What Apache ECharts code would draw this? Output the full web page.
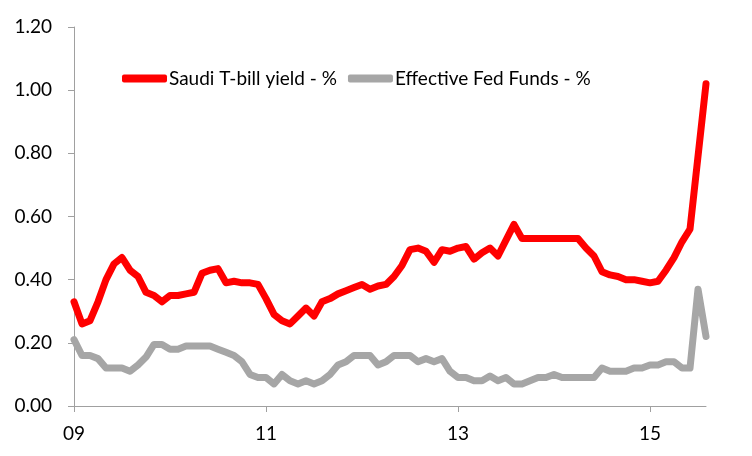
<!DOCTYPE html>
<html>
<head>
<meta charset="utf-8">
<script src="https://cdn.jsdelivr.net/npm/echarts@6/dist/echarts.min.js"></script>
<style>
  html, body { margin: 0; padding: 0; background: #fff; }
  #chart { width: 752px; height: 456px; }
</style>
</head>
<body>
<div id="chart"></div>
<script>
// monthly, Jan 2009 .. Aug 2015
var yearLabels = ['09', '10', '11', '12', '13', '14', '15'];

var saudiTbill = [
    0.33, 0.26, 0.27, 0.33, 0.40, 0.45, 0.47, 0.43, 0.41, 0.36, 0.35, 0.33,
    0.35, 0.35, 0.355, 0.36, 0.42, 0.43, 0.435, 0.39, 0.395, 0.39, 0.39, 0.385,
    0.34, 0.29, 0.27, 0.26, 0.285, 0.31, 0.285, 0.33, 0.34, 0.355, 0.365, 0.375,
    0.385, 0.37, 0.38, 0.385, 0.41, 0.445, 0.495, 0.50, 0.49, 0.455, 0.495, 0.49,
    0.50, 0.505, 0.465, 0.485, 0.50, 0.475, 0.525, 0.575, 0.53, 0.53, 0.53, 0.53,
    0.53, 0.53, 0.53, 0.53, 0.50, 0.475, 0.425, 0.415, 0.41, 0.40,
    0.40, 0.395, 0.39, 0.395, 0.43, 0.47, 0.52, 0.56, 0.79, 1.02
];

var fedFunds = [
    0.21, 0.16, 0.16, 0.15, 0.12, 0.12, 0.12, 0.11, 0.13, 0.155, 0.195, 0.195,
    0.18, 0.18, 0.19, 0.19, 0.19, 0.19, 0.18, 0.17, 0.16, 0.14, 0.10, 0.09,
    0.09, 0.07, 0.10, 0.08, 0.07, 0.08, 0.07, 0.08, 0.10, 0.13, 0.14, 0.16,
    0.16, 0.16, 0.13, 0.14, 0.16, 0.16, 0.16, 0.14, 0.15, 0.14, 0.15, 0.11,
    0.09, 0.09, 0.08, 0.08, 0.095, 0.08, 0.09, 0.07, 0.07, 0.08, 0.09, 0.09,
    0.10, 0.09, 0.09, 0.09, 0.09, 0.09, 0.12, 0.11, 0.11, 0.11,
    0.12, 0.12, 0.13, 0.13, 0.14, 0.14, 0.12, 0.12, 0.37, 0.22
];

var months = [];
for (var i = 0; i < saudiTbill.length; i++) {
    months.push(yearLabels[Math.floor(i / 12)] + '-' + (i % 12 + 1));
}

var font = 'Lato';
var axisGrey = '#a0a0a0';

var chart = echarts.init(document.getElementById('chart'), null, {renderer: 'canvas'});

var option = {
    animation: false,
    backgroundColor: '#fff',
    textStyle: {fontFamily: font},
    legend: {
        left: 122,
        top: 69,
        padding: 0,
        itemWidth: 45,
        itemHeight: 8,
        itemGap: 11,
        icon: 'roundRect',
        textStyle: {fontFamily: font, fontSize: 19, color: '#000', padding: [0, 0, 0, -3]},
        data: ['Saudi T-bill yield - %', 'Effective Fed Funds - %']
    },
    grid: {
        left: 74,
        right: 46,
        top: 27,
        bottom: 50
    },
    xAxis: {
        type: 'category',
        data: months,
        boundaryGap: false,
        axisLine: {lineStyle: {color: axisGrey, width: 1}},
        axisTick: {interval: 23, length: 6, lineStyle: {color: axisGrey}},
        axisLabel: {
            interval: 23,
            margin: 18,
            fontFamily: font,
            fontSize: 19,
            color: '#000',
            formatter: function (v) { return v.split('-')[0]; }
        },
        splitLine: {show: false}
    },
    yAxis: {
        type: 'value',
        min: 0,
        max: 1.2,
        interval: 0.2,
        axisLine: {show: true, lineStyle: {color: axisGrey, width: 1}},
        axisTick: {show: true, length: 6, lineStyle: {color: axisGrey}},
        axisLabel: {
            margin: 22,
            fontFamily: font,
            fontSize: 19,
            color: '#000',
            formatter: function (v) { return v.toFixed(2); }
        },
        splitLine: {show: false}
    },
    series: [
        {
            name: 'Saudi T-bill yield - %',
            type: 'line',
            data: saudiTbill,
            showSymbol: false,
            symbol: 'none',
            color: '#ff0000',
            lineStyle: {width: 7, color: '#ff0000', cap: 'round', join: 'round'},
            z: 3
        },
        {
            name: 'Effective Fed Funds - %',
            type: 'line',
            data: fedFunds,
            showSymbol: false,
            symbol: 'none',
            color: '#a6a6a6',
            lineStyle: {width: 7, color: '#a6a6a6', cap: 'round', join: 'round'},
            z: 2
        }
    ]
};

chart.setOption(option);
</script>
</body>
</html>
